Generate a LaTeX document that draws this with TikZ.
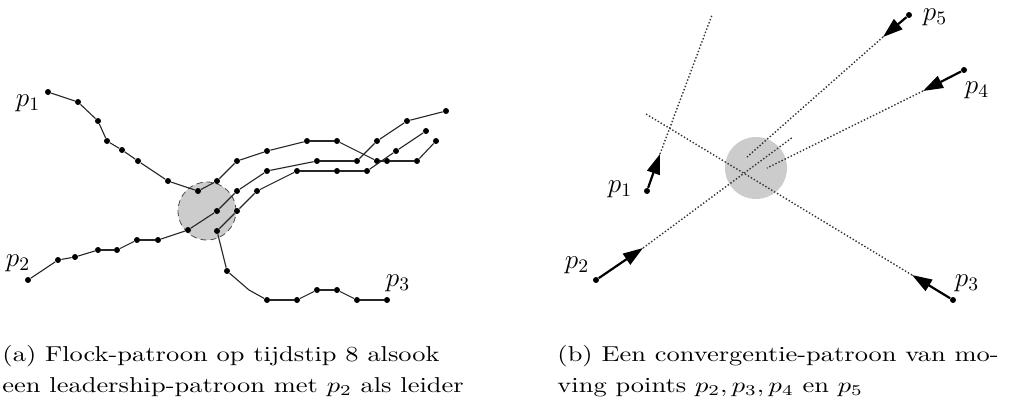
\RequirePackage{fix-cm}
\documentclass[tikz,border=0pt]{standalone}
\usetikzlibrary{arrows.meta}

\begin{document}
\begin{tikzpicture}[x=0.5pt, y=-0.5pt,
    dot/.style={circle, fill=black, inner sep=0pt, minimum size=3pt},
    trail/.style={line width=0.55pt, black!85},
    lbl/.style={inner sep=0pt, font=\fontsize{13.6}{14}\selectfont},
    captext/.style={anchor=north west, inner sep=0pt, xscale=1.23, transform shape,
      font={\fontsize{10.75}{15.5}\selectfont}},
    ray/.style={densely dotted, line width=0.7pt, black!80},
    move/.style={line width=1.1pt, -{Triangle[length=10pt, width=6.5pt]}}
  ]
  \useasboundingbox (0,0) rectangle (1009,403);

  % (a) flock
  \node[circle, fill=gray!40, draw=black!70, densely dashed, line width=0.4pt,
        minimum size=29pt, inner sep=0pt] (flock) at (207,211) {};

  \foreach \x/\y [count=\i] in {48/92, 78/102, 98/121, 107/141, 122/150, 138/161,
      168/181, 198/191, 217/181, 237/161, 267/151, 307/141, 337/141, 377/161,
      387/161, 417/161, 436/141}
    \node[dot] (a\i) at (\x,\y) {};
  \foreach \i [remember=\i as \j (initially 1)] in {2,...,17}
    \draw[trail] (a\j) -- (a\i);

  \foreach \x/\y [count=\i] in {28/280, 58/260, 75/257, 98/250, 117/250, 137/240,
      158/240, 188/230, 217/211, 237/191, 267/171, 317/161, 357/161, 377/141,
      407/121, 446/111}
    \node[dot] (b\i) at (\x,\y) {};
  \foreach \i [remember=\i as \j (initially 1)] in {2,...,16}
    \draw[trail] (b\j) -- (b\i);

  \foreach \x/\y [count=\i] in {387/300, 357/300, 337/290, 317/290, 297/300,
      267/300, 227/271, 217/231, 237/211, 257/191, 297/171, 337/171, 367/171,
      396/151, 426/131}
    \node[dot] (c\i) at (\x,\y) {};
  \foreach \i [remember=\i as \j (initially 1)] in {2,...,6}
    \draw[trail] (c\j) -- (c\i);
  \coordinate (cbend) at (249,290);
  \draw[trail] (c6) -- (cbend) -- (c7);
  \foreach \i [remember=\i as \j (initially 7)] in {8,...,15}
    \draw[trail] (c\j) -- (c\i);

  \node[lbl] (pa1) at (28,103) {$p_1$};
  \node[lbl] (pa2) at (18,263) {$p_2$};
  \node[lbl] (pa3) at (398,283) {$p_3$};

  % (b) convergence
  \node[circle, fill=gray!40, minimum size=31pt, inner sep=0pt] (meet) at (756,168) {};

  \foreach \n/\sx/\sy/\tx/\ty/\ex/\ey in {1/647/191/660/154/712/15,
      2/596/280/643/248/793/137, 3/953/300/912/275/646/114,
      4/964/70/923/91/767/168, 5/909/15/883/37/747/157} {
    \node[dot] (q\n) at (\sx,\sy) {};
    \coordinate (t\n) at (\tx,\ty);
    \coordinate (e\n) at (\ex,\ey);
    \draw[ray] (t\n) -- (e\n);
    \draw[move] (q\n) -- (t\n);
  }

  \node[lbl] (pb1) at (620,189) {$p_1$};
  \node[lbl] (pb2) at (577,265) {$p_2$};
  \node[lbl] (pb3) at (967,283) {$p_3$};
  \node[lbl] (pb4) at (977,90) {$p_4$};
  \node[lbl] (pb5) at (935,17) {$p_5$};

  \node[captext, text width=191pt] (capa) at (2,345)
    {\parfillskip=0pt (a) Flock-patroon op tijdstip 8 alsook\linebreak een leadership-patroon met $p_2$ als leider\par};
  \node[captext, text width=180pt] (capb) at (557,345)
    {(b) Een convergentie-patroon van mo-\linebreak ving points $p_2, p_3, p_4$ en $p_5$};
\end{tikzpicture}
\end{document}
